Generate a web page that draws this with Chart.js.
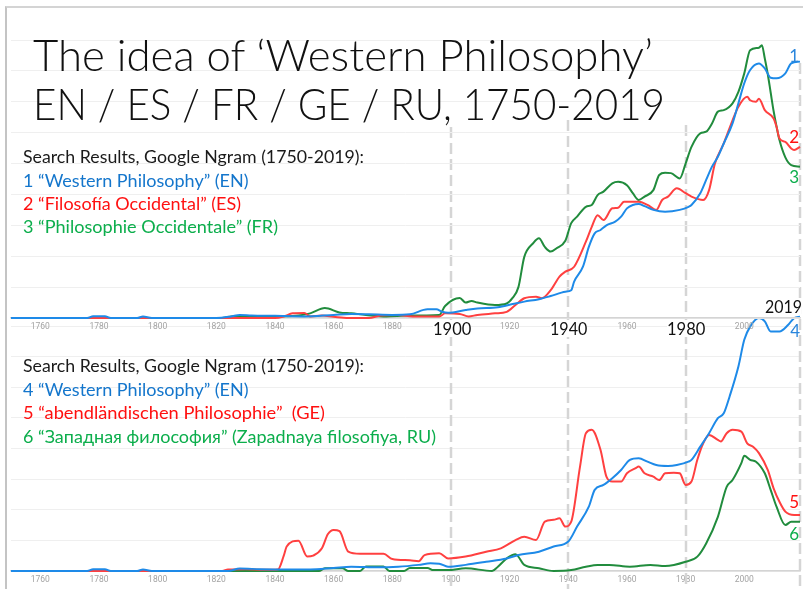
<!DOCTYPE html>
<html><head><meta charset="utf-8">
<script src="https://cdn.jsdelivr.net/npm/chart.js@4.4.1/dist/chart.umd.min.js"></script>
<style>
html,body{margin:0;padding:0;background:#fff;}
#wrap{position:relative;width:803px;height:589px;overflow:hidden;background:#fff;}
canvas{position:absolute;left:0;top:0;}
.frame{position:absolute;left:5px;top:6px;width:798px;height:583px;border-top:2px solid #d4d4d4;border-left:2px solid #c4c4c4;box-sizing:border-box;}
#texts{position:absolute;left:0;top:0;width:803px;height:589px;}
.t{position:absolute;white-space:pre;font-family:Lato,"Open Sans",sans-serif;line-height:1;transform-origin:0 0;}
</style></head><body>
<div id="wrap">
<div class="frame"></div>
<canvas id="bottom" width="803" height="589"></canvas>
<canvas id="top" width="803" height="589"></canvas>
<div id="texts"></div>
</div>
<script>
// ---------- DATA ----------
const tickYears = [1760,1780,1800,1820,1840,1860,1880,1900,1920,1940,1960,1980,2000];
const markerYears = [1900,1940,1980,2019];

// Top chart: "Western Philosophy" (EN)
const topEnYears = [1750,1776,1778,1782,1784,1793,1795,1798,1820,1825,1828,1832,1840,1850,1860,1866,1872,1880,1886,1892,1895,1897,1899,1905,1909,1916,1921,1925,1930,1934,1939,1941,1942,1945,1947,1949,1951,1953,1956,1958,1960,1962,1964,1966,1969,1973,1978,1981,1982,1985,1987,1989,1991,1993,1996,1998,2000,2002,2005,2007,2009,2011,2014,2016,2019];
const topEnValues = [0,0,0.06,0.06,0,0,0.05,0,0,0.05,0.1,0.08,0.07,0.05,0.1,0.13,0.12,0.1,0.12,0.28,0.28,0.2,0.17,0.26,0.31,0.35,0.45,0.53,0.61,0.71,0.85,0.9,1.18,1.66,2.3,2.74,2.85,3.0,3.12,3.28,3.55,3.66,3.69,3.62,3.5,3.44,3.5,3.6,3.66,4.04,4.47,4.9,5.22,5.65,6.3,6.95,7.6,8.03,8.24,8.08,7.78,7.76,7.92,8.24,8.3];

// Top chart: "Filosofía Occidental" (ES)
const topEsYears = [1750,1840,1843,1846,1850,1852,1856,1860,1865,1872,1876,1882,1887,1896,1898,1903,1906,1909,1915,1919,1922,1925,1929,1931,1934,1937,1939,1942,1946,1948,1950,1952,1955,1957,1959,1962,1964,1967,1970,1972,1974,1977,1980,1982,1986,1988,1990,1993,1996,1998,2001,2002,2004,2005,2007,2010,2011,2012,2014,2016,2017,2019];
const topEsValues = [0,0,0.05,0.15,0.16,0.05,0.08,0.04,0,0,0.08,0.1,0.05,0.05,0.15,0.13,0.05,0.1,0.15,0.2,0.42,0.64,0.69,0.64,0.9,1.34,1.5,1.66,2.47,2.95,3.33,3.17,3.55,3.57,3.76,3.76,3.76,3.66,3.5,3.82,3.93,4.2,4.04,3.93,3.82,4.14,5.0,5.65,6.4,6.84,7.16,7.05,7.0,7.1,6.73,6.46,6.19,5.81,5.7,5.49,5.44,5.54];

// Top chart: "Philosophie Occidentale" (FR)
const topFrYears = [1750,1822,1826,1830,1835,1840,1848,1852,1857,1862,1866,1871,1878,1885,1896,1898,1903,1905,1907,1909,1915,1919,1921,1923,1925,1928,1930,1932,1934,1936,1939,1941,1943,1946,1948,1950,1952,1955,1957,1960,1962,1964,1966,1969,1971,1973,1975,1978,1980,1982,1985,1987,1989,1991,1993,1996,1998,2000,2002,2005,2006,2007,2008,2009,2010,2011,2012,2014,2016,2019];
const topFrValues = [0,0,0.06,0.06,0.03,0.05,0.08,0.15,0.32,0.18,0.15,0.1,0.05,0.08,0.1,0.39,0.65,0.5,0.55,0.5,0.42,0.47,0.65,1.0,1.98,2.42,2.58,2.3,2.15,2.26,2.5,3.07,3.28,3.6,3.66,3.98,4.09,4.36,4.41,4.3,4.04,3.82,3.93,4.14,4.63,4.7,4.69,4.52,5.0,5.54,5.98,6.03,6.3,6.68,6.73,6.95,7.32,7.92,8.67,8.75,8.83,8.4,7.9,7.3,6.7,6.2,5.76,5.2,4.95,4.9];

// Bottom chart: "Western Philosophy" (EN)
const botEnYears = [1750,1776,1778,1782,1784,1793,1795,1798,1824,1828,1835,1845,1852,1860,1866,1875,1882,1889,1893,1896,1899,1905,1912,1919,1923,1930,1935,1940,1943,1947,1949,1952,1955,1958,1961,1964,1967,1970,1974,1977,1981,1982,1985,1988,1991,1993,1995,1998,2000,2002,2005,2007,2009,2012,2015,2017,2019];
const botEnValues = [0,0,0.06,0.06,0,0,0.05,0,0,0.08,0.06,0.05,0.05,0.1,0.14,0.12,0.14,0.2,0.25,0.24,0.14,0.2,0.3,0.41,0.52,0.63,0.8,0.96,1.45,2.1,2.65,2.81,3.03,3.3,3.63,3.68,3.57,3.46,3.43,3.46,3.57,3.63,4.06,4.5,4.99,5.15,5.7,6.68,7.55,7.98,8.26,8.15,7.82,7.82,8.04,8.26,8.3];

// Bottom chart: "abendländischen Philosophie" (GE)
const botDeYears = [1750,1822,1824,1830,1836,1841,1843,1844,1848,1851,1853,1856,1858,1860,1862,1865,1869,1877,1880,1886,1889,1891,1896,1899,1905,1912,1917,1922,1925,1929,1932,1935,1937,1939,1941,1944,1946,1948,1951,1953,1955,1958,1960,1963,1964,1966,1969,1971,1973,1976,1978,1980,1982,1984,1986,1988,1991,1992,1994,1996,1999,2001,2003,2005,2008,2010,2012,2014,2017,2019];
const botDeValues = [0,0,0.05,0.06,0.04,0.05,0.5,0.8,0.99,0.47,0.5,0.74,1.2,1.34,1.3,0.63,0.56,0.56,0.39,0.35,0.32,0.52,0.58,0.41,0.47,0.63,0.74,1.01,1.12,1.01,1.61,1.67,1.72,1.45,1.61,3.41,4.5,4.61,3.95,3.08,2.92,2.92,3.19,3.36,3.41,3.19,3.08,2.97,3.19,3.21,3.19,2.81,2.92,3.63,4.17,4.44,4.28,4.23,4.5,4.61,4.55,4.17,4.06,3.85,3.3,2.7,2.26,1.94,1.83,1.83];

// Bottom chart: "Западная философия" (RU)
const botRuYears = [1750,1855,1857,1863,1865,1869,1871,1877,1879,1884,1886,1892,1894,1899,1905,1914,1916,1919,1922,1925,1930,1935,1941,1946,1950,1954,1961,1968,1973,1980,1984,1987,1991,1994,1996,1999,2000,2002,2004,2007,2009,2011,2014,2016,2019];
const botRuValues = [0,0,0.09,0.09,0,0,0.15,0.15,0,0,0.1,0.1,0.03,0.03,0.09,0,0.14,0.41,0.55,0.2,0.09,0,0.03,0.14,0.2,0.2,0.14,0.2,0.16,0.3,0.47,0.9,1.77,2.75,2.97,3.52,3.76,3.63,3.57,3.19,2.65,2.1,1.5,1.61,1.61];

// ---------- STYLE ----------
const BLUE='#1e8ae8', RED='#ff4040', GREEN='#218c3d';
const TBLUE='#1476cc', TRED='#ff1010', TGREEN='#0cae4c';
const dashTops=[127,120,125,63];

function pts(xs, ys){ return xs.map((x,i)=>({x:x,y:ys[i]})); }
function ds(xs, ys, color){
  return {data:pts(xs,ys), borderColor:color, borderWidth:2, pointRadius:0, fill:false,
          cubicInterpolationMode:'monotone', clip:false};
}

const dashPlugin = {
  id:'dashes',
  beforeDatasetsDraw(chart){
    const ctx=chart.ctx, x=chart.scales.x;
    ctx.save();
    ctx.strokeStyle='#d5d5d5'; ctx.lineWidth=2.5; ctx.setLineDash([11,5]);
    markerYears.forEach((yr,i)=>{
      const px=Math.round(x.getPixelForValue(yr));
      ctx.beginPath(); ctx.moveTo(px,dashTops[i]); ctx.lineTo(px,589); ctx.stroke();
    });
    ctx.restore();
  }
};

function makeChart(id, datasets, ymax, pad, axisH, plugins){
  return new Chart(document.getElementById(id), {
    type:'line',
    data:{datasets:datasets},
    plugins:plugins||[],
    options:{
      responsive:false, animation:false, events:[],
      layout:{padding:pad},
      plugins:{legend:{display:false}, tooltip:{enabled:false}},
      scales:{
        x:{type:'linear', min:1750, max:2019,
           afterBuildTicks:s=>{ s.ticks=tickYears.map(v=>({value:v})); },
           afterFit:s=>{ s.height=axisH; },
           grid:{color:'rgba(0,0,0,0)', drawTicks:false},
           border:{display:true, color:'#d4d4d4', width:1.5},
           ticks:{color:'#a3a3a3', font:{family:'Roboto', size:8.5}, padding:4, maxRotation:0,
                  callback:v=>String(v)}},
        y:{min:0, max:ymax,
           afterFit:s=>{ s.width=0; },
           ticks:{display:false, stepSize:1},
           grid:{color:'#efefef', lineWidth:1, drawTicks:false},
           border:{display:false}}
      }
    }
  });
}

makeChart('bottom', [ds(botEnYears,botEnValues,BLUE), ds(botDeYears,botDeValues,RED), ds(botRuYears,botRuValues,GREEN)],
  8, {left:11, right:3, top:326, bottom:0}, 18, [dashPlugin]);
makeChart('top', [ds(topEnYears,topEnValues,BLUE), ds(topEsYears,topEsValues,RED), ds(topFrYears,topFrValues,GREEN)],
  9, {left:11, right:3, top:40, bottom:251}, 20);

// ---------- TEXT ----------
const texts=document.getElementById('texts');
function placeText(str,o){
  const d=document.createElement('div'); d.className='t';
  d.style.fontSize=o.size+'px'; d.style.color=o.color||'#111';
  if(o.weight) d.style.fontWeight=o.weight;
  if(o.bg) d.style.background=o.bg;
  const s=document.createElement('span'); s.textContent=str; d.appendChild(s);
  const m=document.createElement('span');
  m.style.display='inline-block'; m.style.width='0px'; m.style.height='0px'; m.style.verticalAlign='baseline';
  d.appendChild(m);
  texts.appendChild(d);
  const baseOff=m.offsetTop;
  const w=s.getBoundingClientRect().width;
  const sx=o.w? o.w/w : 1;
  const rw=w*sx;
  let left=o.x;
  if(o.align==='center') left=o.x-rw/2; else if(o.align==='right') left=o.x-rw;
  d.style.left=left+'px'; d.style.top=(o.base-baseOff)+'px';
  if(sx!==1) d.style.transform='scaleX('+sx+')';
}
placeText('The idea of ‘Western Philosophy’',{x:33,base:71,size:44,w:620,weight:300});
placeText('EN / ES / FR / GE / RU, 1750-2019',{x:33,base:120,size:44,w:632,weight:300});

placeText('Search Results, Google Ngram (1750-2019):',{x:23,base:163.3,size:16.3,w:341,color:'#1a1a1a'});
placeText('1 “Western Philosophy” (EN)',{x:23,base:186.6,size:16.3,w:225.6,color:TBLUE});
placeText('2 “Filosofía Occidental” (ES)',{x:23,base:209.8,size:16.3,w:218,color:TRED});
placeText('3 “Philosophie Occidentale” (FR)',{x:23,base:233,size:16.3,w:255,color:TGREEN});

placeText('Search Results, Google Ngram (1750-2019):',{x:23,base:372.3,size:16.3,w:341,color:'#1a1a1a'});
placeText('4 “Western Philosophy” (EN)',{x:23,base:396,size:16.3,w:225.6,color:TBLUE});
placeText('5 “abendländischen Philosophie”  (GE)',{x:23,base:419.3,size:16.3,w:302,color:TRED});
placeText('6 “Западная философия” (Zapadnaya filosofiya, RU)',{x:23,base:443,size:16.3,w:413,color:TGREEN});

placeText('1900',{x:452.5,base:335,size:17,w:38.3,align:'center',bg:'#fff'});
placeText('1940',{x:568.7,base:335,size:17,w:37.3,align:'center',bg:'#fff'});
placeText('1980',{x:686.5,base:335,size:17,w:38.4,align:'center',bg:'#fff'});
placeText('2019',{x:783.5,base:313.3,size:17,w:37,align:'center',bg:'#fff'});

placeText('1',{x:799,base:61.7,size:17,align:'right',color:'#2a86dc'});
placeText('2',{x:799,base:143.3,size:17,align:'right',color:TRED});
placeText('3',{x:799,base:182.7,size:17,align:'right',color:TGREEN});
placeText('4',{x:800,base:336.7,size:17,align:'right',color:'#2a86dc'});
placeText('5',{x:799,base:508.3,size:17,align:'right',color:TRED});
placeText('6',{x:799,base:540,size:17,align:'right',color:TGREEN});
</script>
</body></html>
